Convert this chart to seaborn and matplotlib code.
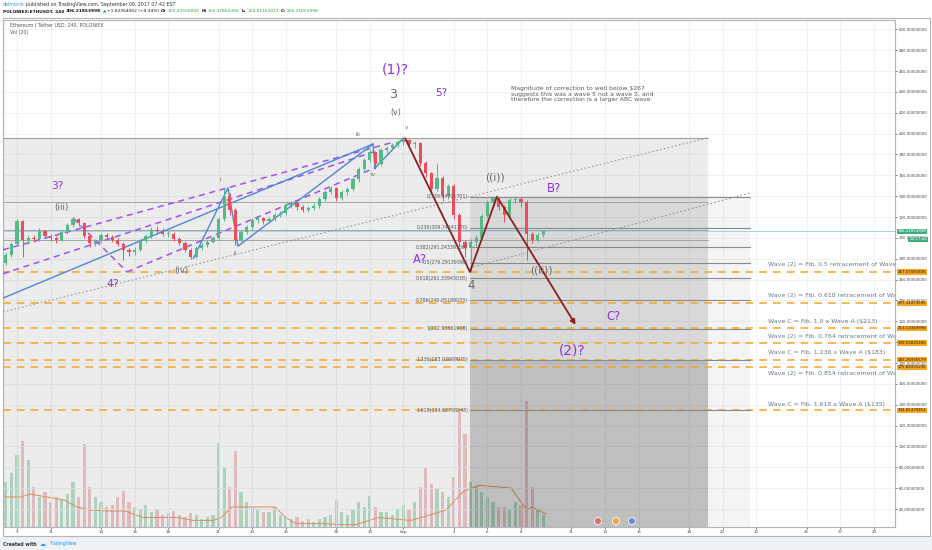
import numpy as np
import pandas as pd
import matplotlib
matplotlib.use("Agg")
import matplotlib.pyplot as plt
import matplotlib.transforms as mtrans
from matplotlib.patches import Rectangle
import seaborn as sns

# ------------------------------------------------------------------ data
# 8-hour candles, Aug 8 16:00 .. Sep 9 08:00 (x axis in days, Aug 9 = 0)
first_open = 276.0
close = [284, 294,
         316, 298, 300,  299, 307, 302,  300, 298, 306,  312, 318, 314,
         302, 295, 297,  303, 301, 298,  294, 288, 286,  288, 297, 302,
         308, 307, 304,  304, 299, 295,  288, 282, 290,  293, 296, 300,
         318, 340, 327,  298, 306, 310,  317, 319, 316,  318, 322, 324,
         331, 333, 330,  327, 329, 331,  337, 344, 348,  338, 344, 347,
         356, 366, 375,  382, 371, 384,  386, 389, 392,  394, 390, 391,
         372, 362, 347,  357, 340, 350,  322, 296, 290,  296, 300, 321,
         334, 338, 330,  322, 336, 337,  334, 304, 298,  303, 306.22]
high = [286, 296,
        318, 317, 303,  303, 309, 308,  304, 302, 308,  314, 320, 319,
        315, 304, 299,  305, 305, 303,  300, 296, 290,  291, 299, 304,
        310, 311, 309,  307, 306, 301,  297, 290, 292,  295, 298, 302,
        320, 348, 343,  329, 308, 312,  319, 321, 320,  320, 324, 326,
        333, 335, 334,  332, 331, 333,  339, 346, 350,  349, 346, 349,
        358, 368, 377,  385, 383, 386,  388, 391, 394,  396, 395, 393,
        392, 374, 363,  372, 359, 352,  352, 324, 298,  299, 303, 323,
        336, 340, 339,  332, 338, 340,  339, 336, 306,  305, 306.4]
low = [274, 282,
       292, 282, 294,  296, 297, 300,  297, 295, 297,  304, 310, 311,
       300, 291, 292,  295, 299, 296,  292, 279, 283,  284, 287, 295,
       300, 304, 302,  301, 297, 293,  286, 280, 281,  288, 291, 295,
       299, 316, 322,  293, 296, 304,  308, 314, 313,  314, 316, 320,
       322, 329, 327,  325, 325, 327,  329, 335, 342,  335, 336, 341,
       345, 354, 364,  373, 366, 369,  381, 384, 387,  389, 387, 386,
       369, 358, 342,  345, 335, 337,  318, 292, 282,  267, 292, 298,
       319, 330, 327,  315, 320, 333,  330, 279, 295,  296, 301]
volume = [45, 54,
          72, 86, 67,  40, 30, 35,  25, 30, 28,  33, 45, 30,
          83, 40, 30,  25, 20, 22,  30, 36, 25,  20, 18, 22,
          15, 18, 12,  14, 16, 12,  10, 14, 12,  8, 10, 12,
          84, 60, 40,  76, 35, 25,  20, 18, 15,  15, 20, 12,
          10, 8, 10,  6, 8, 5,  8, 10, 12,  27, 15, 12,
          18, 25, 20,  31, 20, 15,  15, 12, 18,  22, 18, 25,
          40, 59, 43,  38, 35, 30,  50, 115, 93,  45, 40, 35,
          30, 25, 20,  20, 18, 25,  22, 126, 40,  18, 12]
# Vol(20) moving-average line
ma_t = [-0.8, 0.24, 0.77, 2.8, 3.57, 4.29, 5.36, 6.43, 7.5, 9.58, 10.48, 11.7,
        12.14, 12.8, 15.36, 16.0, 16.6, 18.1, 19.2, 20.2, 21.5, 23.45, 25.5,
        26.6, 27.5, 29.4, 30.36, 30.65, 31.5]
ma_v = [30, 30, 33, 27, 20, 17, 16, 16, 9.5, 9.5, 6.6, 6.6,
        9.5, 20, 20, 9.5, 3.4, 3.4, 2.4, 2.4, 9.5, 6.6, 16.6,
        36, 41.6, 39, 16.6, 20, 13]

xtick_days = [0, 2, 5, 7, 9, 12, 14, 16, 19, 21, 23, 26, 28, 30, 33, 35, 37,
              40, 42, 44, 47, 49, 51]
xtick_labels = ["9", "11", "14", "16", "18", "21", "23", "25", "28", "30", "Sep",
                "4", "6", "8", "11", "13", "15", "18", "20", "22", "25", "27", "29"]
ytick_prices = list(range(40, 501, 20))

fib_ratios = ["0", "0.236", "0.382", "0.5", "0.618", "0.786", "1", "1.236", "1.618"]
fib_prices = [339.64701701, 309.74241770, 291.24339150, 276.29139390, 261.33943038,
              240.05189033, 212.93561908, 183.03669975, 134.62798243]

target_prices = [267.07081836, 237.14473595, 213.13349998, 199.02825405,
                 183.26935579, 175.84931235, 134.65329454]
target_texts = ["Wave (2) = Fib. 0.5 retracement of Wave (1)",
                "Wave (2) = Fib. 0.618 retracement of Wave (1)",
                "Wave C = Fib. 1.0 x Wave A ($213)",
                "Wave (2) = Fib. 0.764 retracement of Wave (1)",
                "Wave C = Fib. 1.236 x Wave A ($183)",
                "Wave (2) = Fib. 0.854 retracement of Wave (1)",
                "Wave C = Fib. 1.618 x Wave A ($135)"]
target_text_prices = [274.0, 244.6, 219.7, 205.0, 189.9, 170.2, 140.7]
last_price = 306.21853998

# drawings (day, price)
abc_t = [23.1, 26.96, 28.57]
abc_p = [395.5, 267.3, 339.6]
c_end = (33.33, 214.5)
blue_zz_t = [10.49, 12.56, 13.15, 21.19, 21.31, 23.0]
blue_zz_p = [280.2, 348.0, 292.0, 390.0, 367.0, 395.5]
blue_long = [(-0.83, 242.3), (21.19, 390.0)]
purple_lines = [[(-0.83, 288.6), (22.5, 392.2)],
                [(-0.83, 265.6), (21.6, 384.4)],
                [(3.33, 319.2), (6.55, 267.4)],
                [(6.55, 267.4), (21.3, 367.1)]]
dotted_lines = [[(-0.83, 229.0), (41.13, 395.9)],
                [(26.96, 271.3), (43.63, 343.0)]]

elliott_gray = [("3", 22.4, 437.7, 9), ("(v)", 22.56, 420.0, 5.8), ("v", 23.2, 405.7, 4),
                ("iii", 20.3, 398.7, 4.2), ("iv", 21.2, 360.3, 4.2), ("i", 12.08, 356.2, 4.2),
                ("ii", 12.98, 285.5, 4.2), ("(iii)", 2.62, 329.6, 6.3), ("(iv)", 9.8, 269.2, 6.2),
                ("((i))", 28.45, 358.1, 7.8), ("4", 27.02, 254.8, 8.5), ("((ii))", 31.23, 269.2, 7.6)]
elliott_purple = [("(1)?", 22.5, 461.0, 10), ("5?", 25.24, 438.6, 7.5), ("3?", 2.42, 350.0, 7.6),
                  ("4?", 5.71, 255.8, 7.8), ("B?", 31.96, 347.6, 8.5), ("A?", 24.0, 279.5, 8.3),
                  ("C?", 35.48, 224.4, 8.3), ("(2)?", 33.02, 191.9, 9.9)]
note_text = ("Magnitude of correction to well below $267\n"
             "suggests this was a wave 5 not a wave 3, and\n"
             "therefore the correction is a larger ABC wave.")

# ------------------------------------------------------------------ style
sns.set_theme(style="white")
plt.rcParams["font.family"] = ["DejaVu Sans"]

UP, DOWN = "#53b987", "#eb4d5c"
PURPLE, GRAYTXT = "#8b32d9", "#666666"
ORANGE, FRAME = "#f5a623", "#b2b5be"

W, H = 932, 550
fig = plt.figure(figsize=(W / 100, H / 100), dpi=100)
fig.patch.set_facecolor("white")
rect = [3 / W, (H - 527) / H, 892 / W, 507 / H]
ax_v = fig.add_axes(rect)
ax = fig.add_axes(rect, sharex=ax_v)
ax_v.set_zorder(0)
ax.set_zorder(1)
ax.patch.set_visible(False)

df = pd.DataFrame({"t": np.arange(len(close)) / 3.0 - 2.0 / 3.0,
                   "open": [first_open] + close[:-1], "high": high, "low": low,
                   "close": close, "volume": volume})
up = df["close"] >= df["open"]
ccol = np.where(up, UP, DOWN)

# volume pane
ax_v.bar(df["t"], df["volume"], width=0.2, color=np.where(up, "#8fd0a8", "#eaa7ac"),
         alpha=0.6, linewidth=0, zorder=2)
sns.lineplot(x=ma_t, y=ma_v, ax=ax_v, color="#ec9a66", lw=0.7, zorder=3)
ax_v.set_ylim(0, 507)
ax_v.set_yticks([])
for s in ax_v.spines.values():
    s.set_visible(False)
ax_v.tick_params(axis="x", bottom=False, labelbottom=False)

# grid
for p in ytick_prices:
    ax.axhline(p, color="#eef0f5", lw=0.6, zorder=0.2)
for d in xtick_days:
    ax.axvline(d, color="#eef0f5", lw=0.6, zorder=0.2)

# shaded drawing regions
ax.add_patch(Rectangle((-0.83, 10), 41.96, 395.9 - 10, fc="black", alpha=0.075, lw=0, zorder=0.5))
ax.add_patch(Rectangle((26.96, fib_prices[7]), 14.17, fib_prices[0] - fib_prices[7], fc="black",
                       alpha=0.08, lw=0, zorder=0.6))
ax.add_patch(Rectangle((26.96, 10), 14.17, fib_prices[7] - 10, fc="black", alpha=0.19, lw=0, zorder=0.6))
ax.add_patch(Rectangle((41.13, 10), 2.5, fib_prices[0] - 10, fc="black", alpha=0.045, lw=0, zorder=0.6))
ax.plot([-0.83, 41.13], [395.9, 395.9], color="#9e9e9e", lw=0.8, zorder=1)
for p in [334.6, 307.6, 298.0]:
    ax.plot([-0.83, 41.13], [p, p], color="#a4a4a4", lw=0.7, zorder=1)

# fib levels
for r, p in zip(fib_ratios, fib_prices):
    ax.plot([26.96, 43.63], [p, p], color="#8a8a8a", lw=0.8, zorder=2.2)
    ax.text(26.85, p, f"{r}({p:.8f})", fontsize=3.4, color="#555555", ha="right", va="center", zorder=9)

# target levels (orange dashed) + right side notes
for p in target_prices:
    ax.plot([-0.83, 52.3], [p, p], color=ORANGE, lw=1.1, ls=(0, (5, 4)), zorder=2)
for txt, p in zip(target_texts, target_text_prices):
    ax.text(44.7, p, txt, fontsize=4.5, color="#6a7a8c", ha="left", va="center", clip_on=True, zorder=9)

# current price line
ax.plot([-0.83, 52.3], [last_price, last_price], color="#9fd6e2", lw=0.7, zorder=2)

# trend / channel lines
for seg in dotted_lines:
    ax.plot([seg[0][0], seg[1][0]], [seg[0][1], seg[1][1]], color="#9a9a9a", lw=0.8, ls=(0, (1.5, 2)), zorder=3)
for seg in purple_lines:
    ax.plot([seg[0][0], seg[1][0]], [seg[0][1], seg[1][1]], color="#a24ff0", lw=1.1, ls=(0, (4, 3)), zorder=4)
ax.plot([blue_long[0][0], blue_long[1][0]], [blue_long[0][1], blue_long[1][1]], color="#4f86d6", lw=1.0, zorder=4)
sns.lineplot(x=blue_zz_t, y=blue_zz_p, ax=ax, color="#4f86d6", lw=1.0, sort=False, zorder=4)

# candles
ax.vlines(df["t"], df["low"], df["high"], colors=ccol, lw=0.7, zorder=6)
body = (df["close"] - df["open"]).abs().clip(lower=0.6)
ax.bar(df["t"], body, bottom=df[["open", "close"]].min(axis=1), width=0.2, color=ccol,
       linewidth=0, zorder=7)

# ABC path
ax.plot(abc_t, abc_p, color="#8b1e1e", lw=1.3, zorder=8)
ax.annotate("", xy=c_end, xytext=(abc_t[-1], abc_p[-1]),
            arrowprops=dict(arrowstyle="-|>", color="#8b1e1e", lw=1.3, mutation_scale=7), zorder=8)

# wave labels
for txt, t, p, fs in elliott_gray:
    ax.text(t, p, txt, fontsize=fs, color=GRAYTXT, ha="center", va="center", zorder=10)
for txt, t, p, fs in elliott_purple:
    ax.text(t, p, txt, fontsize=fs, color=PURPLE, ha="center", va="center", zorder=10)
ax.text(29.39, 445.3, note_text, fontsize=4.4, color="#5a5a5a", ha="left", va="top",
        linespacing=1.05, zorder=10)

# event markers
ax.scatter([34.58, 35.65, 36.6], [28.5, 28.5, 28.5], s=26, c=["#e06c6c", "#f0a050", "#6c8ce0"],
           edgecolors="white", linewidths=0.6, zorder=12, clip_on=False)

# axes
ax.set_xlim(-0.833, 52.26)
ax.set_ylim(22.8, 508.9)
ax.yaxis.tick_right()
ax.set_yticks(ytick_prices)
ax.set_yticklabels([f"{v:.8f}" for v in ytick_prices])
ax.set_xticks(xtick_days)
ax.set_xticklabels(xtick_labels)
ax.tick_params(axis="y", labelsize=2.9, colors="#4a4a4a", length=1.5, width=0.5, pad=1.4, right=True, left=False)
ax.tick_params(axis="x", labelsize=2.9, colors="#4a4a4a", length=1.5, width=0.5, pad=0.8, bottom=True)
for name, s in ax.spines.items():
    s.set_visible(True)
    s.set_color(FRAME)
    s.set_linewidth(0.8)
ax.grid(False)
ax_v.grid(False)

# price tags on the right axis
tag_tr = mtrans.blended_transform_factory(ax.transAxes, ax.transData)
for p in target_prices:
    ax.text(1.003, p, f"{p:.8f}", transform=tag_tr, fontsize=2.9, color="#2a1c00", ha="left", va="center",
            bbox=dict(boxstyle="square,pad=0.2", fc=ORANGE, ec="none"), clip_on=False, zorder=20)
ax.text(1.003, last_price, f"{last_price:.8f}", transform=tag_tr, fontsize=2.9, color="white", ha="left",
        va="center", bbox=dict(boxstyle="square,pad=0.2", fc="#3fae7f", ec="none"), clip_on=False, zorder=21)
ax.text(1.016, last_price - 7.6, "03:17:40", transform=tag_tr, fontsize=2.9, color="white", ha="left",
        va="center", bbox=dict(boxstyle="square,pad=0.2", fc="#3fae7f", ec="none"), clip_on=False, zorder=21)

# chart titles inside
ax.text(7 / 892, 1 - 5 / 507, "Ethereum / Tether USD, 240, POLONIEX", transform=ax.transAxes,
        fontsize=3.4, color="#555555", ha="left", va="center")
ax.text(7 / 892, 1 - 12.5 / 507, "Vol (20)", transform=ax.transAxes, fontsize=3.4, color="#555555",
        ha="left", va="center")

# outer frame and footer
fig.add_artist(Rectangle((3 / W, (H - 536) / H), 927 / W, 518 / H, transform=fig.transFigure,
                         fill=False, ec=FRAME, lw=0.8))
fig.add_artist(Rectangle((0, 0), 1, 13 / H, transform=fig.transFigure, fc="#eef2f7", ec="none", zorder=-1))

renderer = fig.canvas.get_renderer()


def flow(x, y, pieces, gap=1.5):
    """Place text pieces one after another (pixel coords from top-left)."""
    for s, c, wgt, fs in pieces:
        t = fig.text(x / W, 1 - y / H, s, va="center", ha="left", color=c, fontweight=wgt, fontsize=fs)
        bb = t.get_window_extent(renderer=renderer)
        x += bb.width + gap


flow(3, 544, [("Created with", "#333333", "bold", 3.3), ("\u2601", "#2196f3", "normal", 4.2),
              ("TradingView", "#2196f3", "normal", 3.3)], gap=3)
flow(3, 4.5, [("dalmocio", "#2196f3", "normal", 3.4),
              ("published on TradingView.com, September 09, 2017 07:42 EST", "#333333", "normal", 3.4)])
G = "#2fa84f"
fs2 = 3.2
flow(3, 11.5, [("POLONIEX:ETHUSDT, 240", "#111111", "bold", fs2), ("306.21853998", "#111111", "bold", fs2),
               ("\u25b2", G, "normal", fs2), ("+1.02354002 (+0.34%)", "#111111", "normal", fs2),
               ("O:", "#111111", "bold", fs2), ("305.42500000", G, "normal", fs2),
               ("H:", "#111111", "bold", fs2), ("306.37864490", G, "normal", fs2),
               ("L:", "#111111", "bold", fs2), ("304.01163013", G, "normal", fs2),
               ("C:", "#111111", "bold", fs2), ("306.21853998", G, "normal", fs2)])

fig.savefig("out.png", dpi=100, facecolor="white")
